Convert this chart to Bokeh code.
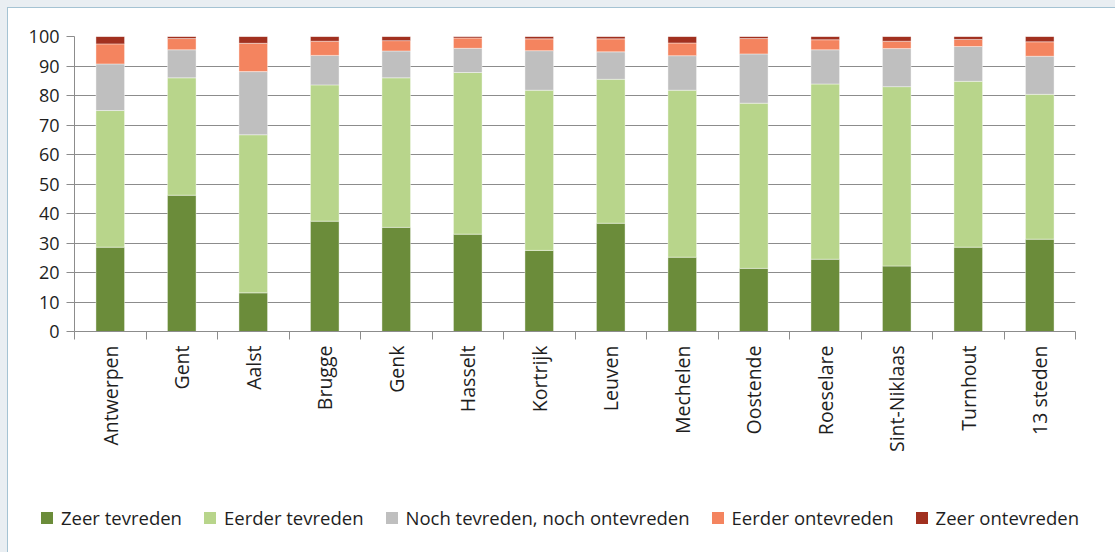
import numpy as np
from bokeh.plotting import figure
from bokeh.layouts import column
from bokeh.models import Range1d, FixedTicker, Legend, LegendItem, ColumnDataSource
from bokeh.embed import file_html
from bokeh.resources import INLINE

cities = ["Antwerpen", "Gent", "Aalst", "Brugge", "Genk", "Hasselt", "Kortrijk",
          "Leuven", "Mechelen", "Oostende", "Roeselare", "Sint-Niklaas", "Turnhout", "13 steden"]
zeer_tevreden = [28.6, 46.2, 13.1, 37.4, 35.3, 33.0, 27.5, 36.7, 25.2, 21.4, 24.5, 22.2, 28.6, 31.3]
eerder_tevreden = [46.3, 39.8, 53.6, 46.2, 50.7, 54.8, 54.3, 48.8, 56.6, 56.0, 59.4, 60.8, 56.2, 49.1]
noch = [15.8, 9.5, 21.4, 10.0, 9.1, 8.2, 13.4, 9.3, 11.7, 16.7, 11.6, 12.9, 11.8, 12.9]
eerder_ontevreden = [6.8, 3.8, 9.6, 4.8, 3.5, 3.5, 4.0, 4.4, 4.3, 5.2, 3.4, 2.5, 2.4, 4.9]
zeer_ontevreden = [2.5, 0.7, 2.3, 1.6, 1.4, 0.5, 0.8, 0.8, 2.2, 0.7, 1.1, 1.6, 1.0, 1.8]

series_names = ["Zeer tevreden", "Eerder tevreden", "Noch tevreden, noch ontevreden",
                "Eerder ontevreden", "Zeer ontevreden"]
colors = ["#6b8c3a", "#b8d58b", "#bfbfbf", "#f4845f", "#a1301f"]
y_ticks = [0, 10, 20, 30, 40, 50, 60, 70, 80, 90, 100]

FONT = "Open Sans"
TXT = "#1e1e1e"
GRID = "#8c8c8c"

n = len(cities)
centers = [i + 0.5 for i in range(n)]
keys = ["s0", "s1", "s2", "s3", "s4"]
source = ColumnDataSource(dict(x=centers, s0=zeer_tevreden, s1=eerder_tevreden, s2=noch,
                               s3=eerder_ontevreden, s4=zeer_ontevreden))

p = figure(width=1107, height=487, output_backend="svg", toolbar_location=None,
           x_range=Range1d(0, n), y_range=Range1d(0, 100),
           min_border_left=66, min_border_right=40, min_border_top=28, min_border_bottom=164)
p.outline_line_color = None
p.background_fill_color = "white"
p.border_fill_color = "white"

rs = p.vbar_stack(keys, x="x", width=0.4, color=colors, source=source,
                  line_color="white", line_width=0.8, line_alpha=0.5)

# y axis
p.yaxis.ticker = FixedTicker(ticks=y_ticks)
p.yaxis.axis_line_color = GRID
p.yaxis.major_tick_line_color = GRID
p.yaxis.major_tick_out = 8
p.yaxis.major_tick_in = 0
p.yaxis.minor_tick_line_color = None
p.yaxis.major_label_text_font = FONT
p.yaxis.major_label_text_font_size = "18px"
p.yaxis.major_label_text_color = TXT
p.yaxis.major_label_standoff = 7
p.ygrid.grid_line_color = GRID
p.ygrid.grid_line_width = 1
p.ygrid.ticker = FixedTicker(ticks=y_ticks)
p.xgrid.grid_line_color = None

# x axis: labels at centers, tick marks at category boundaries
p.xaxis.ticker = FixedTicker(ticks=centers, minor_ticks=list(range(n + 1)))
p.xaxis.major_label_overrides = {c: name for c, name in zip(centers, cities)}
p.xaxis.major_tick_line_color = None
p.xaxis.major_tick_out = 8
p.xaxis.major_tick_in = 0
p.xaxis.minor_tick_line_color = GRID
p.xaxis.minor_tick_out = 8
p.xaxis.minor_tick_in = 0
p.xaxis.axis_line_color = GRID
p.xaxis.major_label_orientation = np.pi / 2
p.xaxis.major_label_standoff = 6
p.xaxis.major_label_text_font = FONT
p.xaxis.major_label_text_font_size = "19.5px"
p.xaxis.major_label_text_color = TXT

# legend in its own strip below the chart (swatch renderers have zero size)
pl = figure(width=1107, height=57, output_backend="svg", toolbar_location=None,
            x_range=Range1d(0, 1), y_range=Range1d(0, 1),
            x_axis_location=None, y_axis_location=None,
            min_border_left=0, min_border_right=0, min_border_top=0, min_border_bottom=0)
pl.grid.visible = False
pl.outline_line_color = None
pl.border_fill_color = "white"
pl.background_fill_color = "white"
swatches = [pl.vbar(x=[0], top=[0], width=0, fill_color=c, line_color=None) for c in colors]

legend = Legend(items=[LegendItem(label=nm, renderers=[r]) for nm, r in zip(series_names, swatches)],
                orientation="horizontal", location=(31, 22),
                glyph_width=15, glyph_height=15, label_standoff=7, spacing=20,
                label_text_font=FONT, label_text_font_size="18.5px", label_text_color=TXT,
                border_line_color=None, background_fill_alpha=0, padding=0, margin=0)
pl.add_layout(legend, "center")

layout = column(p, column(pl, spacing=0), spacing=0)
layout.styles = {"border-left": "1px solid #a5c3d3", "border-top": "1px solid #a5c3d3",
                 "background-color": "white"}

html = file_html(layout, INLINE)
html = html.replace("</head>",
                    "<style>html,body{background:#e9eef2 !important;}"
                    "body{padding:7px 0 0 7px !important;overflow:hidden !important;}</style></head>", 1)
open("out.html", "w").write(html)
